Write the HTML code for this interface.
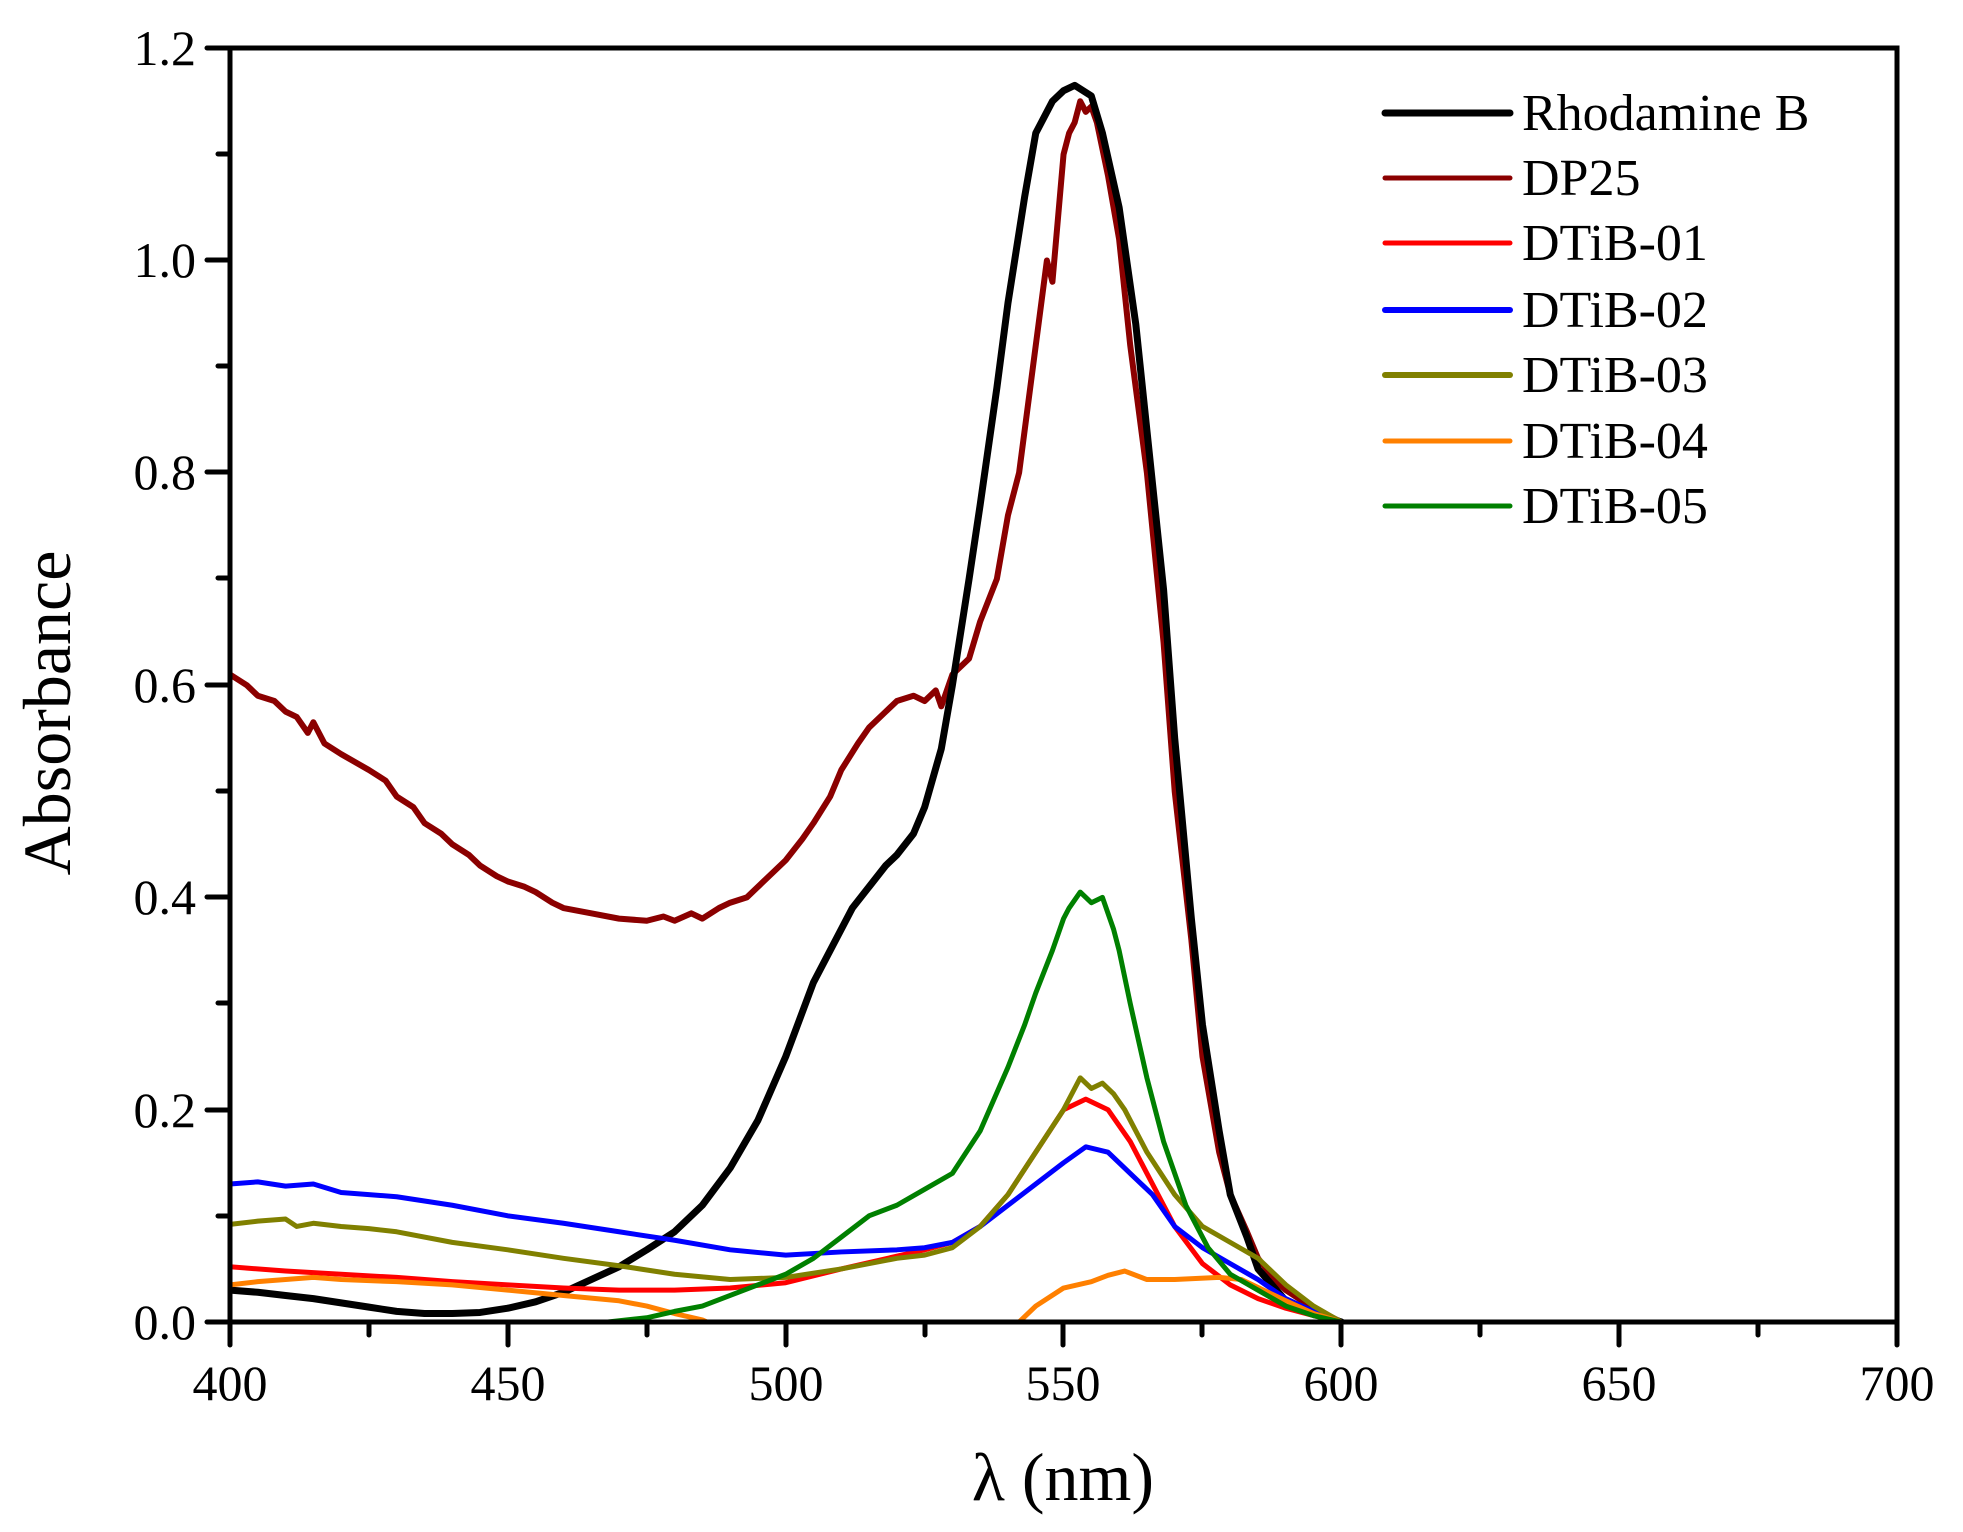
<!DOCTYPE html>
<html><head><meta charset="utf-8"><style>html,body{margin:0;padding:0;background:#fff}svg{display:block}text{font-family:"Liberation Serif",serif;fill:#000}</style></head>
<body>
<svg width="1963" height="1532" viewBox="0 0 1963 1532" xmlns="http://www.w3.org/2000/svg">
<defs><clipPath id="c"><rect x="230" y="40" width="1667" height="1282"/></clipPath></defs>
<g clip-path="url(#c)" fill="none" stroke-linejoin="round" stroke-linecap="round">
<g transform="translate(230,1322) scale(5.557,-1061.5)">
<polyline vector-effect="non-scaling-stroke" stroke="#8b0000" stroke-width="6" points="0,0.61 3,0.6 5,0.59 8,0.585 10,0.575 12,0.57 14,0.555 15,0.565 17,0.545 20,0.535 25,0.52 28,0.51 30,0.495 33,0.485 35,0.47 38,0.46 40,0.45 43,0.44 45,0.43 48,0.42 50,0.415 53,0.41 55,0.405 58,0.395 60,0.39 65,0.385 70,0.38 75,0.378 78,0.382 80,0.378 83,0.385 85,0.38 88,0.39 90,0.395 93,0.4 95,0.41 98,0.425 100,0.435 103,0.455 105,0.47 108,0.495 110,0.52 113,0.545 115,0.56 118,0.575 120,0.585 123,0.59 125,0.585 127,0.595 128,0.58 130,0.61 133,0.625 135,0.66 138,0.7 140,0.76 142,0.8 145,0.92 147,1.0 148,0.98 150,1.1 151,1.12 152,1.13 153,1.15 154,1.14 155,1.145 156,1.13 158,1.08 160,1.02 162,0.92 165,0.8 168,0.64 170,0.5 173,0.36 175,0.25 178,0.16 180,0.12 183,0.085 185,0.06 188,0.04 190,0.03 195,0.013 200,0"/>
<polyline vector-effect="non-scaling-stroke" stroke="#000" stroke-width="7" points="0,0.03 5,0.028 10,0.025 15,0.022 20,0.018 25,0.014 30,0.01 35,0.008 40,0.008 45,0.009 50,0.013 55,0.019 60,0.028 65,0.04 70,0.052 75,0.068 80,0.085 85,0.11 90,0.145 95,0.19 100,0.25 105,0.32 110,0.37 112,0.39 115,0.41 118,0.43 120,0.44 123,0.46 125,0.485 128,0.54 130,0.6 133,0.7 135,0.77 138,0.88 140,0.96 143,1.06 145,1.12 148,1.15 150,1.16 152,1.165 155,1.155 157,1.12 160,1.05 163,0.94 165,0.84 168,0.69 170,0.55 173,0.38 175,0.28 178,0.18 180,0.12 183,0.08 185,0.05 188,0.032 190,0.02 195,0.008 200,0"/>
<polyline vector-effect="non-scaling-stroke" stroke="#ff0000" stroke-width="5" points="0,0.052 10,0.048 20,0.045 30,0.042 40,0.038 50,0.035 60,0.032 70,0.03 80,0.03 90,0.032 100,0.037 110,0.05 120,0.062 125,0.068 130,0.075 135,0.09 140,0.12 145,0.16 150,0.2 154,0.21 158,0.2 162,0.17 166,0.13 170,0.09 175,0.055 180,0.035 185,0.022 190,0.013 195,0.006 200,0"/>
<polyline vector-effect="non-scaling-stroke" stroke="#0000ff" stroke-width="5" points="0,0.13 5,0.132 10,0.128 15,0.13 20,0.122 30,0.118 40,0.11 50,0.1 60,0.093 70,0.085 80,0.077 90,0.068 100,0.063 110,0.066 120,0.068 125,0.07 130,0.075 135,0.09 140,0.11 145,0.13 150,0.15 154,0.165 158,0.16 162,0.14 166,0.12 170,0.09 175,0.07 180,0.055 185,0.04 190,0.022 195,0.01 200,0"/>
<polyline vector-effect="non-scaling-stroke" stroke="#808000" stroke-width="5" points="0,0.092 5,0.095 10,0.097 12,0.09 15,0.093 20,0.09 25,0.088 30,0.085 40,0.075 50,0.068 60,0.06 70,0.053 80,0.045 90,0.04 100,0.042 110,0.05 120,0.06 125,0.063 130,0.07 135,0.09 140,0.12 145,0.16 150,0.2 153,0.23 155,0.22 157,0.225 159,0.215 161,0.2 165,0.16 170,0.12 175,0.09 180,0.075 185,0.06 190,0.035 195,0.015 200,0"/>
<polyline vector-effect="non-scaling-stroke" stroke="#ff8000" stroke-width="5" points="0,0.035 5,0.038 10,0.04 15,0.042 20,0.04 30,0.038 40,0.035 50,0.03 60,0.025 70,0.02 75,0.015 80,0.008 85,0.002 90,-0.01 140,-0.01 145,0.015 150,0.032 155,0.038 158,0.044 161,0.048 165,0.04 170,0.04 178,0.042 182,0.04 186,0.03 190,0.02 195,0.008 200,0"/>
<polyline vector-effect="non-scaling-stroke" stroke="#008000" stroke-width="5" points="66,-0.01 68,0 75,0.004 80,0.01 85,0.015 90,0.025 95,0.035 100,0.045 105,0.06 110,0.08 115,0.1 120,0.11 125,0.125 130,0.14 135,0.18 140,0.24 143,0.28 145,0.31 148,0.35 150,0.38 151,0.39 153,0.405 155,0.395 157,0.4 159,0.37 160,0.35 162,0.3 165,0.23 168,0.17 172,0.11 176,0.07 180,0.045 185,0.03 190,0.015 195,0.006 200,0"/>
</g></g>
<g stroke="#000" stroke-width="5" fill="none" stroke-linecap="round">
<rect x="230" y="48" width="1667" height="1274"/>
<path d="M230,1322v23M508,1322v23M786,1322v23M1063,1322v23M1341,1322v23M1619,1322v23M1897,1322v23 M369,1322v13M647,1322v13M925,1322v13M1202,1322v13M1480,1322v13M1758,1322v13"/>
<path d="M207,1322h23M207,1110h23M207,897h23M207,685h23M207,472h23M207,260h23M207,48h23 M218,1216h12M218,1003h12M218,791h12M218,578h12M218,366h12M218,154h12"/>
</g>
<g font-size="50" text-anchor="end">
<text x="196" y="1339">0.0</text><text x="196" y="1127">0.2</text><text x="196" y="914">0.4</text><text x="196" y="702">0.6</text><text x="196" y="489">0.8</text><text x="196" y="277">1.0</text><text x="196" y="65">1.2</text>
</g>
<g font-size="50" text-anchor="middle">
<text x="230" y="1400">400</text><text x="508" y="1400">450</text><text x="786" y="1400">500</text><text x="1063" y="1400">550</text><text x="1341" y="1400">600</text><text x="1619" y="1400">650</text><text x="1897" y="1400">700</text>
</g>
<text x="1063" y="1500" font-size="68" text-anchor="middle">λ (nm)</text>
<text transform="translate(70,713) rotate(-90)" font-size="68" text-anchor="middle">Absorbance</text>
<g stroke-width="5" stroke-linecap="round">
<line x1="1385" y1="113" x2="1510" y2="113" stroke="#000" stroke-width="7"/>
<line x1="1385" y1="178" x2="1510" y2="178" stroke="#8b0000"/>
<line x1="1385" y1="243" x2="1510" y2="243" stroke="#ff0000"/>
<line x1="1385" y1="310" x2="1510" y2="310" stroke="#0000ff" stroke-width="6"/>
<line x1="1385" y1="375" x2="1510" y2="375" stroke="#808000" stroke-width="6"/>
<line x1="1385" y1="441" x2="1510" y2="441" stroke="#ff8000"/>
<line x1="1385" y1="506" x2="1510" y2="506" stroke="#008000"/>
</g>
<g font-size="52">
<text x="1522" y="130">Rhodamine B</text><text x="1522" y="195">DP25</text><text x="1522" y="260">DTiB-01</text><text x="1522" y="327">DTiB-02</text><text x="1522" y="392">DTiB-03</text><text x="1522" y="458">DTiB-04</text><text x="1522" y="523">DTiB-05</text>
</g>
</svg>
</body></html>
